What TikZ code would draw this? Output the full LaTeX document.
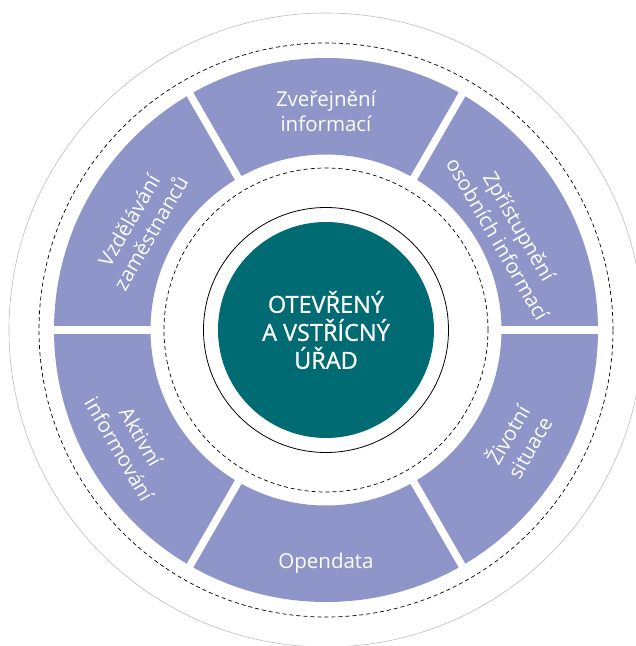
\documentclass[tikz,border=0pt]{standalone}
\usepackage{fontspec}
\setmainfont{Open Sans}
\usepackage{tikz}
\definecolor{lila}{HTML}{8E95C9}
\definecolor{petrol}{HTML}{006B72}
\definecolor{sedy}{HTML}{BDBDBD}
\tikzset{
  ringlabel/.style={text=white,align=center,inner sep=0pt,
    font=\fontsize{20.5}{25}\selectfont},
  corelabel/.style={text=white,align=center,inner sep=0pt,
    font=\fontsize{23.5}{28}\selectfont\addfontfeature{FakeBold=0.8}},
  dashring/.style={draw=black,dash pattern=on 4pt off 3pt,line width=.7pt},
  gapline/.style={draw=white,line width=7.5pt}
}

\begin{document}
\begin{tikzpicture}[x=1pt,y=1pt]
\useasboundingbox (-326,-316) rectangle (310,330);
\clip (-326,-316) rectangle (310,330);

% kruhy
\draw[sedy,line width=.6pt] (0,0) circle (317);
\draw[dashring] (0,0) circle (287);
\fill[lila,even odd rule] (0,0) circle (272) (0,0) circle (175.5);
\foreach \a in {0,60,...,300}
  \draw[gapline] (\a:170) -- (\a:278);
\draw[dashring] (0,0) circle (162);
\draw[line width=.8pt] (0,0) circle (122.5);
\fill[petrol] (0,0) circle (108);

% stred
\node[corelabel] (urad) at (0,0) {OTEVŘENÝ\\A VSTŘÍCNÝ\\ÚŘAD};

% segmenty
\node[ringlabel] (zverejneni) at (90:219) {Zveřejnění\\informací};
\node[ringlabel,rotate=-60] (zpristupneni) at (28:207) {Zpřístupnění\\osobních informací};
\node[ringlabel,rotate=60] (situace) at (-30:221) {Životní\\situace};
\node[ringlabel] (opendata) at (-90:233) {Opendata};
\node[ringlabel,rotate=-60] (aktivni) at (-150:226) {Aktivní\\informování};
\node[ringlabel,rotate=60] (vzdelavani) at (151:213) {Vzdělávání\\zaměstnanců};
\end{tikzpicture}
\end{document}
